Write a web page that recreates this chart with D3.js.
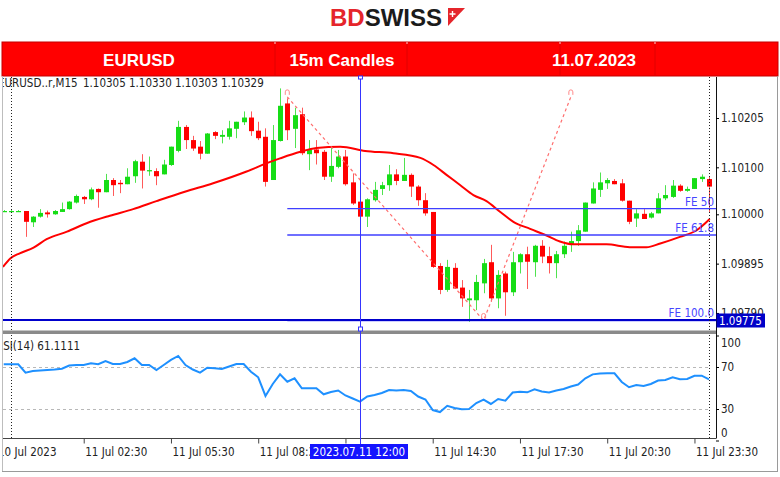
<!DOCTYPE html>
<html><head><meta charset="utf-8">
<script src="https://cdn.jsdelivr.net/npm/d3@7"></script>
<style>
body{margin:0;background:#fff;}
svg{display:block;}
.ax text{font-family:"DejaVu Sans Condensed","DejaVu Sans",sans-serif;font-stretch:condensed;font-size:11.5px;fill:#222;}
.lbl{font-family:"DejaVu Sans Condensed","DejaVu Sans",sans-serif;font-stretch:condensed;font-size:11.5px;}
</style>
</head><body>
<svg id="c" width="780" height="477"></svg>
<script>
// ---------- DATA ----------
const symbolTitle = ["EURUSD..r,M15", "1.10305", "1.10330", "1.10303", "1.10329"];
const headerTexts = ["EURUSD", "15m Candles", "11.07.2023"];
const candleIndex = d3.range(-1, 97); // 15m bars, 0 = 11 Jul 00:00
const opens = [1.10007,1.10007,1.10007,1.10007,1.09983,1.09995,1.10004,1.10000,1.10005,1.10011,
1.10025,1.10037,1.10032,1.10054,1.10047,1.10073,1.10067,1.10064,1.10081,1.10112,
1.10092,1.10092,1.10085,1.10105,1.10135,1.10186,1.10158,1.10144,1.10129,1.10175,
1.10165,1.10165,1.10182,1.10196,1.10206,1.10178,1.10165,1.10073,1.10156,1.10236,
1.10182,1.10213,1.10128,1.10138,1.10133,1.10080,1.10101,1.10123,1.10068,1.10027,
1.09995,1.10030,1.10054,1.10062,1.10085,1.10071,1.10084,1.10059,1.10030,1.10005,
1.09890,1.09839,1.09886,1.09844,1.09817,1.09817,1.09853,1.09898,1.09821,1.09874,
1.09834,1.09898,1.09915,1.09898,1.09933,1.09911,1.09896,1.09915,1.09935,1.09943,
1.09963,1.10023,1.10052,1.10066,1.10071,1.10066,1.10029,1.09991,1.10001,1.09993,
1.10002,1.10034,1.10037,1.10061,1.10050,1.10054,1.10075,1.10075];
const highs = [1.10009,1.10009,1.10009,1.10007,1.09996,1.10011,1.10008,1.10009,1.10025,1.10028,
1.10042,1.10039,1.10057,1.10055,1.10086,1.10077,1.10073,1.10098,1.10116,1.10128,
1.10123,1.10098,1.10116,1.10144,1.10199,1.10190,1.10167,1.10156,1.10173,1.10177,
1.10179,1.10199,1.10197,1.10219,1.10219,1.10197,1.10183,1.10190,1.10268,1.10247,
1.10227,1.10227,1.10158,1.10158,1.10137,1.10141,1.10137,1.10137,1.10087,1.10027,
1.10034,1.10069,1.10069,1.10105,1.10096,1.10120,1.10087,1.10062,1.10045,1.10005,
1.09896,1.09903,1.09896,1.09860,1.09839,1.09871,1.09905,1.09935,1.09881,1.09878,
1.09920,1.09917,1.09931,1.09935,1.09945,1.09931,1.09922,1.09942,1.09963,1.09977,
1.10025,1.10068,1.10089,1.10077,1.10075,1.10075,1.10029,1.10011,1.10011,1.10005,
1.10045,1.10062,1.10073,1.10064,1.10059,1.10077,1.10085,1.10080];
const lows = [1.10005,1.10005,1.10005,1.09952,1.09973,1.09993,1.09993,1.09999,1.10005,1.10010,
1.10023,1.10022,1.10030,1.10014,1.10047,1.10039,1.10045,1.10064,1.10067,1.10055,
1.10082,1.10062,1.10085,1.10103,1.10132,1.10139,1.10135,1.10117,1.10129,1.10160,
1.10151,1.10159,1.10162,1.10190,1.10167,1.10158,1.10059,1.10073,1.10155,1.10158,
1.10141,1.10126,1.10094,1.10106,1.10073,1.10069,1.10098,1.10061,1.10020,1.09991,
1.09973,1.10027,1.10041,1.10050,1.10062,1.10071,1.10037,1.10018,1.09997,1.09886,
1.09830,1.09835,1.09841,1.09803,1.09771,1.09796,1.09832,1.09814,1.09800,1.09784,
1.09826,1.09874,1.09841,1.09867,1.09896,1.09874,1.09864,1.09907,1.09920,1.09933,
1.09963,1.10023,1.10037,1.10054,1.10064,1.10027,1.09979,1.09973,1.09990,1.09991,
1.10002,1.10030,1.10035,1.10048,1.10048,1.10054,1.10069,1.10005];
const closes = [1.10007,1.10007,1.10007,1.09984,1.09995,1.10003,1.10000,1.10007,1.10011,1.10027,
1.10039,1.10032,1.10053,1.10047,1.10073,1.10062,1.10064,1.10080,1.10113,1.10093,
1.10094,1.10081,1.10106,1.10144,1.10186,1.10158,1.10140,1.10129,1.10172,1.10167,
1.10169,1.10183,1.10197,1.10206,1.10177,1.10162,1.10069,1.10158,1.10231,1.10179,
1.10211,1.10130,1.10137,1.10130,1.10080,1.10103,1.10123,1.10064,1.10023,1.09995,
1.10032,1.10052,1.10062,1.10085,1.10071,1.10084,1.10059,1.10030,1.10002,1.09888,
1.09839,1.09888,1.09842,1.09821,1.09821,1.09856,1.09896,1.09821,1.09871,1.09834,
1.09898,1.09915,1.09899,1.09933,1.09910,1.09896,1.09915,1.09933,1.09943,1.09966,
1.10025,1.10055,1.10068,1.10073,1.10064,1.10029,1.09984,1.10002,1.09990,1.10002,
1.10034,1.10041,1.10061,1.10050,1.10054,1.10077,1.10080,1.10059];
const maIdx = [-1.1,-0.1,1.2,3.1,4.9,7.7,10.4,13.6,16.8,20,23.9,27.8,32.4,35.2,37,39.8,42,45.3,48.7,52.6,56.3,58.1,59.9,61.8,63.6,65.4,67.3,69.1,71.4,73.5,75.5,77.3,81.9,85.1,87.4,89.3,92,94.3,96.1];
const maVals = [1.09888,1.09906,1.09917,1.09929,1.09947,1.09963,1.09981,1.09997,1.10011,1.10028,1.10048,1.10066,1.10091,1.10109,1.10119,1.10133,1.10141,1.10144,1.10135,1.10130,1.10120,1.10105,1.10084,1.10062,1.10041,1.10028,1.10005,1.09984,1.09969,1.09956,1.09942,1.09936,1.09936,1.09930,1.09930,1.09938,1.09952,1.09966,1.09990];
const rsiVals = [72.6,72.6,72.6,64.6,66.2,66.7,67.1,67.6,68.4,71.4,
71.9,71.9,73.5,72.6,75.7,72.9,72.9,74.8,78.3,71.9,
71.9,67.1,71.9,76.7,80.5,71.9,67.6,64.6,69.3,68.8,
68.1,70.5,72.9,72.9,65.5,60.2,42.4,53.8,63,56,
59.2,49.7,49.7,49.7,44,46.2,47.6,42.9,40,37,
41.9,43.3,45.2,48.1,47.6,48.1,47.1,41.9,39,29,
27.1,33.1,31,29.8,30,35.7,39,34.8,39.5,37.9,
45.7,46.5,45.9,48.8,46.7,45.7,47.6,49,51.4,53.3,
59.2,63,63.8,64,64,55.7,50.7,52.9,51.9,53.8,
57.1,57.6,60.2,58.3,58.6,61.7,61.7,58.3];
const priceTicks = [1.10205, 1.10100, 1.10000, 1.09895, 1.09790];
const rsiTicks = [100, 70, 30, 0];
const rsiLevels = [70, 30];
const timeTickIdx = [-2, 10, 22, 34, 46, 58, 70, 82, 94];
const timeLabels = ["10 Jul 2023","11 Jul 02:30","11 Jul 05:30","11 Jul 08:30","11 Jul 11:30","11 Jul 14:30","11 Jul 17:30","11 Jul 20:30","11 Jul 23:30"];
const separatorIdx = [0, 96];
const fibIdx = [38, 65, 77];
const fibPrice = [1.10250, 1.09774, 1.10250];
const feLevels = [50, 61.8, 100];
const feLabels = ["FE 50", "FE 61.8", "FE 100.0"];
const hLinePrice = 1.09775;
const crossIdx = 48;
const crossLabel = "2023.07.11 12:00";
const rsiLabel = "RSI(14) 61.1111";

// ---------- LAYOUT ----------
const PL = 3, PR = 716, PT = 77, PB = 328, RT = 335, RB = 438.5;
const svg = d3.select('#c');
const x = d3.scaleLinear().domain([0, 96]).range([11, 709]);
const y = d3.scaleLinear().domain([1.09775, 1.10205]).range([320, 118]);
const r = d3.scaleLinear().domain([30, 70]).range([409, 367]);

svg.append('rect').attr('width', 780).attr('height', 477).attr('fill', '#fff');
const defs = svg.append('defs');
defs.append('clipPath').attr('id', 'cm').append('rect').attr('x', PL).attr('y', PT).attr('width', PR - PL).attr('height', PB - PT);
defs.append('clipPath').attr('id', 'cr').append('rect').attr('x', PL).attr('y', RT).attr('width', PR - PL).attr('height', RB - RT);
defs.append('clipPath').attr('id', 'cl').append('rect').attr('x', 3).attr('y', 0).attr('width', 777).attr('height', 477);

// ---------- LOGO ----------
const logo = svg.append('text').attr('x', 330).attr('y', 26)
  .style('font-family', '"Liberation Sans",Arial,sans-serif').style('font-weight', 'bold').style('font-size', '24px');
logo.append('tspan').attr('fill', '#e5252b').text('BD');
logo.append('tspan').attr('fill', '#1b1b1b').text('SWISS');
svg.append('path').attr('d', 'M448,8 L465,8 L448,26 Z').attr('fill', '#e5252b');
svg.append('path').attr('d', 'M452.5,11 v6 M449.5,14 h6').attr('stroke', '#fff').attr('stroke-width', 1.4);

// ---------- HEADER BAR ----------
svg.append('rect').attr('x', 2).attr('y', 42).attr('width', 776).attr('height', 34)
  .attr('fill', '#ff0000').attr('stroke', '#c40000').attr('stroke-width', 1);
[275, 407, 560, 655].forEach(xx => {
  svg.append('line').attr('x1', xx).attr('x2', xx).attr('y1', 42).attr('y2', 76).attr('stroke', '#e00000');
  svg.append('line').attr('x1', xx).attr('x2', xx).attr('y1', 42).attr('y2', 44).attr('stroke', '#ffd0d0');
});
const hx = [139, 342, 594];
headerTexts.forEach((t, k) => svg.append('text').attr('x', hx[k]).attr('y', 66).attr('text-anchor', 'middle')
  .style('font-family', '"Liberation Sans",Arial,sans-serif').style('font-weight', 'bold').style('font-size', '17px')
  .attr('fill', '#fff').text(t));

// ---------- MAIN PANEL ----------
const main = svg.append('g').attr('clip-path', 'url(#cm)');
const candles = candleIndex.map((t, k) => ({ t, o: opens[k], h: highs[k], l: lows[k], c: closes[k] }));
const up = d => d.c >= d.o;
main.append('g').selectAll('line').data(candles).join('line')
  .attr('x1', d => Math.round(x(d.t)) + 0.5).attr('x2', d => Math.round(x(d.t)) + 0.5)
  .attr('y1', d => y(d.h)).attr('y2', d => y(d.l))
  .attr('stroke', d => up(d) ? '#4fe34f' : '#ff5a5a').attr('stroke-width', 1);
main.append('g').selectAll('rect').data(candles).join('rect')
  .attr('x', d => Math.round(x(d.t)) - 2).attr('width', 5)
  .attr('y', d => y(Math.max(d.o, d.c)))
  .attr('height', d => Math.max(1.2, y(Math.min(d.o, d.c)) - y(Math.max(d.o, d.c))))
  .attr('fill', d => up(d) ? '#16dd16' : '#ff0000');

// moving average
main.append('path').datum(maIdx.map((t, k) => [t, maVals[k]]))
  .attr('d', d3.line().x(d => x(d[0])).y(d => y(d[1])).curve(d3.curveMonotoneX))
  .attr('fill', 'none').attr('stroke', '#ff0000').attr('stroke-width', 2);

// fibonacci expansion
const fibPts = fibIdx.map((t, k) => [x(t), y(fibPrice[k])]);
main.append('path').attr('d', d3.line()(fibPts)).attr('fill', 'none')
  .attr('stroke', '#ff6e6e').attr('stroke-width', 1.2).attr('stroke-dasharray', '3,3');
main.append('g').selectAll('path.m').data(fibPts).join('path')
  .attr('d', d => `M${d[0] - 2},${d[1] - 2} v-3 a2,2 0 0 1 4,0 v3`)
  .attr('fill', 'none').attr('stroke', '#ff8a8a').attr('stroke-width', 1);
const feRange = fibPrice[0] - fibPrice[1];
const fePrice = feLevels.map(l => fibPrice[2] - feRange * l / 100);
main.append('g').selectAll('line').data(fePrice).join('line')
  .attr('x1', x(fibIdx[0])).attr('x2', PR).attr('y1', d => y(d)).attr('y2', d => y(d))
  .attr('stroke', '#3f3fff').attr('stroke-width', 1.4);
// horizontal line
main.append('line').attr('x1', PL).attr('x2', PR).attr('y1', y(hLinePrice)).attr('y2', y(hLinePrice))
  .attr('stroke', '#0000cc').attr('stroke-width', 2.2);
// FE labels
svg.append('g').selectAll('text').data(fePrice).join('text').attr('class', 'lbl')
  .attr('x', 714).attr('y', d => y(d) - 3).attr('text-anchor', 'end').attr('fill', '#4646ff')
  .text((d, k) => feLabels[k]);

// period separators
svg.append('g').selectAll('line').data(separatorIdx).join('line')
  .attr('x1', d => Math.round(x(d)) + 0.5).attr('x2', d => Math.round(x(d)) + 0.5).attr('y1', PT).attr('y2', RB)
  .attr('stroke', '#222').attr('stroke-dasharray', '1,2');

// symbol title
const titleX = [-2, 83, 129, 175, 221];
const tg = svg.append('g').attr('clip-path', 'url(#cl)');
symbolTitle.forEach((t, k) => tg.append('text').attr('class', 'lbl').attr('x', titleX[k]).attr('y', 87).attr('fill', '#222').text(t));

// separator band
svg.append('rect').attr('x', PL).attr('y', 330.5).attr('width', PR - PL).attr('height', 3.5).attr('fill', '#8a8a8a');

// ---------- RSI PANEL ----------
const rs = svg.append('g').attr('clip-path', 'url(#cr)');
rs.append('g').selectAll('line').data(rsiLevels).join('line')
  .attr('x1', PL).attr('x2', x(96)).attr('y1', d => Math.round(r(d)) + 0.5).attr('y2', d => Math.round(r(d)) + 0.5)
  .attr('stroke', '#b8b8b8').attr('stroke-dasharray', '3,3');
rs.append('path').datum(candleIndex.map((t, k) => [t, rsiVals[k]]))
  .attr('d', d3.line().x(d => x(d[0])).y(d => r(d[1])))
  .attr('fill', 'none').attr('stroke', '#1e90ff').attr('stroke-width', 2);
svg.append('g').attr('clip-path', 'url(#cl)').append('text').attr('class', 'lbl')
  .attr('x', -4).attr('y', 350).attr('fill', '#222').text(rsiLabel);

// ---------- AXES ----------
svg.append('line').attr('x1', PR + 0.5).attr('x2', PR + 0.5).attr('y1', PT).attr('y2', RB).attr('stroke', '#111');
svg.append('line').attr('x1', PL).attr('x2', PR).attr('y1', RB).attr('y2', RB).attr('stroke', '#444');

const pAx = svg.append('g').attr('class', 'ax').attr('transform', `translate(${PR},0)`)
  .call(d3.axisRight(y).tickValues(priceTicks).tickSize(3).tickPadding(2).tickFormat(d3.format('.5f')));
pAx.select('.domain').remove();

const rAx = svg.append('g').attr('class', 'ax').attr('transform', `translate(${PR},0)`)
  .call(d3.axisRight(r).tickValues(rsiTicks).tickSize(3).tickPadding(2));
rAx.select('.domain').remove();
rAx.selectAll('.tick').filter(d => d === 100).select('text').attr('dy', '0.95em');
rAx.selectAll('.tick').filter(d => d === 0).select('text').attr('dy', '-0.35em');

const tAx = svg.append('g').attr('class', 'ax').attr('clip-path', 'url(#cl)').append('g')
  .attr('transform', `translate(0,${RB})`)
  .call(d3.axisBottom(x).tickValues(timeTickIdx).tickSize(5).tickPadding(4).tickFormat((d, k) => timeLabels[k]));
tAx.select('.domain').remove();
tAx.selectAll('.tick line').attr('stroke', '#444');
tAx.selectAll('.tick text').attr('text-anchor', 'start').attr('x', 1);
// label hidden behind the crosshair time box in the original
tAx.selectAll('.tick').filter(d => d === crossIdx - 2).select('text').remove();
// label partly covered by the crosshair time box: clip it at the box edge
defs.append('clipPath').attr('id', 'c8b').append('rect')
  .attr('x', -10).attr('y', -10).attr('width', 310 - x(34) + 10).attr('height', 40);
tAx.selectAll('.tick').filter(d => d === 34).attr('clip-path', 'url(#c8b)');

// ---------- CROSSHAIR & LABEL BOXES ----------
const cx = Math.round(x(crossIdx)) + 0.5;
svg.append('line').attr('x1', cx).attr('x2', cx).attr('y1', PT - 1).attr('y2', 444).attr('stroke', '#3535ff').attr('stroke-width', 1);
svg.append('rect').attr('x', cx - 2).attr('y', 76).attr('width', 4).attr('height', 3).attr('fill', '#fff').attr('stroke', '#3535ff');
svg.append('rect').attr('x', cx - 2).attr('y', 327).attr('width', 4).attr('height', 4).attr('fill', '#fff').attr('stroke', '#3535ff');

svg.append('rect').attr('x', 716.5).attr('y', 313.5).attr('width', 48.5).attr('height', 14).attr('fill', '#0000c8');
svg.append('text').attr('class', 'lbl').attr('x', 719).attr('y', 324.5).attr('fill', '#fff').text(d3.format('.5f')(hLinePrice));

svg.append('rect').attr('x', 310).attr('y', 444).attr('width', 98).attr('height', 15).attr('fill', '#1414ff');
svg.append('text').attr('class', 'lbl').attr('x', 359).attr('y', 456).attr('text-anchor', 'middle').attr('fill', '#fff').text(crossLabel);

// window frame
svg.append('line').attr('x1', 2).attr('x2', 778).attr('y1', 471.5).attr('y2', 471.5).attr('stroke', '#9a9a9a');
svg.append('line').attr('x1', 777.5).attr('x2', 777.5).attr('y1', 76).attr('y2', 471).attr('stroke', '#9a9a9a');
svg.append('line').attr('x1', 2.5).attr('x2', 2.5).attr('y1', 76).attr('y2', 471).attr('stroke', '#bdbdbd');
</script>
</body></html>
